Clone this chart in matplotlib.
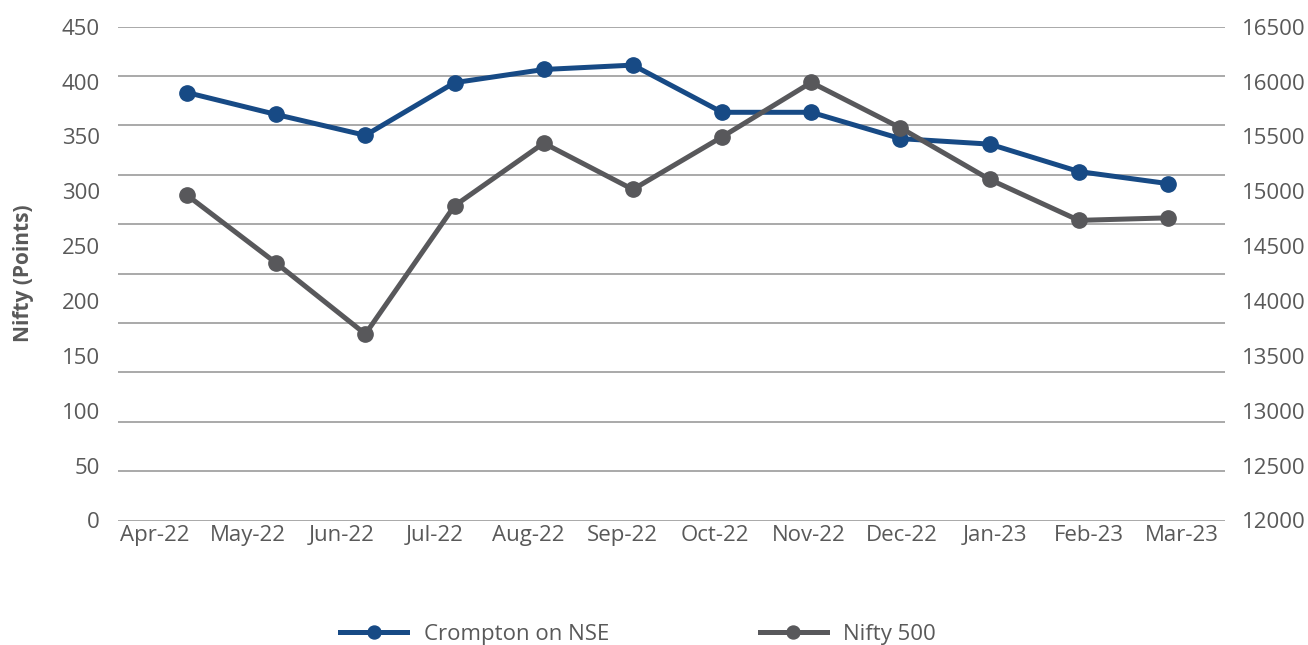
import matplotlib
matplotlib.use("Agg")
import matplotlib.pyplot as plt
import numpy as np

# ---- data ----
months = ["Apr-22", "May-22", "Jun-22", "Jul-22", "Aug-22", "Sep-22",
          "Oct-22", "Nov-22", "Dec-22", "Jan-23", "Feb-23", "Mar-23"]
crompton = [390, 370, 351, 399, 411, 415, 372, 372, 348, 343, 318, 307]
nifty500 = [14965, 14346, 13699, 14868, 15439, 15017,
            15496, 15992, 15578, 15108, 14735, 14758]
left_ticks = list(range(0, 451, 50))
right_ticks = list(range(12000, 16501, 500))
series_names = ["Crompton on NSE", "Nifty 500"]

# ---- style ----
BLUE = "#174A85"
GRAY = "#58585B"
TEXT = "#595959"
GRID = "#A9A9A9"
plt.rcParams["font.family"] = ["Open Sans", "DejaVu Sans"]
FS = 16

fig = plt.figure(figsize=(13.08, 6.45), dpi=100)
rect = [118 / 1308, 1 - 520.5 / 645, (1225 - 118) / 1308, (520.5 - 26.7) / 645]

# axis for category labels (evenly spread across the plot width)
ax_lbl = fig.add_axes(rect)
ax_lbl.set_xlim(-0.396, 11.46)
ax_lbl.set_xticks(range(len(months)))
ax_lbl.set_xticklabels(months, fontsize=FS, color=TEXT)
ax_lbl.set_yticks([])
ax_lbl.tick_params(axis="x", length=0, pad=3)
for s in ax_lbl.spines.values():
    s.set_visible(False)
ax_lbl.patch.set_alpha(0)

ax = fig.add_axes(rect)
ax.patch.set_alpha(0)
x = np.arange(len(months))
ax.set_xlim(-0.7735, 11.639)
ax.set_ylim(0, 450)
ax.set_xticks([])
ax.set_yticks(left_ticks)
ax.set_yticklabels([str(v) for v in left_ticks], fontsize=FS, color=TEXT)
ax.tick_params(axis="y", length=0, pad=13)
for s in ax.spines.values():
    s.set_visible(False)
for g in np.linspace(0, 450, 11):
    ax.axhline(g, color=GRID, lw=1.4, zorder=0)
ax.set_ylabel("Nifty (Points)", fontsize=15, fontweight="bold", color=TEXT, labelpad=20)

l1, = ax.plot(x, crompton, color=BLUE, lw=3.6, marker="o", ms=11,
              label=series_names[0], zorder=3)

ax2 = ax.twinx()
ax2.set_ylim(12000, 16500)
ax2.set_yticks(right_ticks)
ax2.set_yticklabels([str(v) for v in right_ticks], fontsize=FS, color=TEXT)
ax2.tick_params(axis="y", length=0, pad=12)
for s in ax2.spines.values():
    s.set_visible(False)
l2, = ax2.plot(x, nifty500, color=GRAY, lw=3.6, marker="o", ms=11,
               label=series_names[1], zorder=3)

fig.legend(handles=[l1, l2], loc="center", bbox_to_anchor=(0.488, 0.016),
           ncol=2, frameon=False, fontsize=FS, labelcolor=TEXT,
           handlelength=3.0, handletextpad=0.75, columnspacing=6.8,
           markerscale=0.85)

fig.savefig("out.png", dpi=100)
